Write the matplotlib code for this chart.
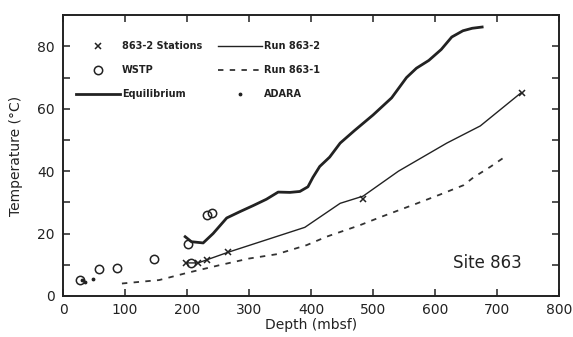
import matplotlib; matplotlib.use("Agg")
import matplotlib.pyplot as plt
from matplotlib.ticker import MultipleLocator

# equilibrium temperature profile (thick curve)
eq_depth = [197, 207, 226, 242, 264, 285, 307, 328, 347, 366, 382, 395, 403, 414, 430, 447,
            470, 500, 530, 554, 570, 590, 610, 627, 645, 660, 676]
eq_temp = [19, 17.4, 17, 20, 25, 27, 29, 31, 33.3, 33.2, 33.5, 35, 38, 41.5, 44.5, 49,
           53, 58, 63.5, 70, 73, 75.5, 79, 83, 85, 85.8, 86.2]

# logging runs
run2_depth = [200, 218, 232, 266, 390, 447, 484, 541, 619, 673, 738]
run2_temp = [10.6, 10.6, 11.6, 14, 22, 29.7, 32, 40, 49, 54.5, 65]
run1_depth = [95, 155, 200, 253, 300, 345, 393, 425, 479, 511, 570, 608, 646, 662, 690, 712]
run1_temp = [4.0, 5.1, 7.4, 9.9, 12, 13.4, 16.3, 19, 22.7, 25.2, 29.6, 32.5, 35.5, 38, 41.5, 44.5]

# point measurements
st_depth = [199, 218, 232, 266, 484, 740]
st_temp = [10.6, 10.6, 11.5, 14, 31.2, 65]
wstp_depth = [28, 58, 87, 146, 201, 207, 233, 241]
wstp_temp = [5.1, 8.6, 9.0, 11.8, 16.6, 10.6, 25.9, 26.7]
adara_depth = [31, 36, 48]
adara_temp = [5.0, 4.4, 5.4]

fig = plt.figure(figsize=(5.73, 3.37), dpi=100)
ax = fig.add_axes([0.11, 0.1217, 0.8656, 0.8333])

ax.plot(st_depth, st_temp, "x", color="#222", ms=5, mew=1.1, label="863-2 Stations")
ax.plot(wstp_depth, wstp_temp, "o", mfc="none", mec="#222", ms=6, mew=1.1, label="WSTP")
ax.plot(eq_depth, eq_temp, "-", color="#222", lw=2.0, label="Equilibrium")
ax.plot(run2_depth, run2_temp, "-", color="#222", lw=1.0, label="Run 863-2")
ax.plot(run1_depth, run1_temp, color="#333", lw=1.3, ls=(0, (3, 3.5)), label="Run 863-1")
ax.plot(adara_depth, adara_temp, ".", color="#222", ms=3.5, label="ADARA")

ax.set_xlim(0, 800); ax.set_ylim(0, 90)
ax.xaxis.set_major_locator(MultipleLocator(100))
ax.yaxis.set_major_locator(MultipleLocator(20))
ax.yaxis.set_minor_locator(MultipleLocator(10))
ax.tick_params(which="both", direction="in", length=5, width=1.1, top=True, right=True,
               labelsize=10, colors="#222")
ax.tick_params(axis="y", pad=6)
ax.tick_params(axis="x", pad=5)
for s in ax.spines.values(): s.set_linewidth(1.4); s.set_color("#222")
ax.set_xlabel("Depth (mbsf)", fontsize=10, labelpad=1, color="#222")
ax.set_ylabel("Temperature (°C)", fontsize=10, labelpad=10, color="#222")
ax.text(684, 10.5, "Site 863", fontsize=12, ha="center", va="center", color="#222")

leg = ax.legend(ncol=2, loc="upper left", bbox_to_anchor=(0.026, 0.907), frameon=False,
                handlelength=4.5, handletextpad=0.25, columnspacing=1.6,
                labelspacing=1.45, borderpad=0, borderaxespad=0,
                prop={"weight": "bold", "size": 7})
for t in leg.get_texts(): t.set_color("#222")

fig.savefig("out.png", dpi=100)
